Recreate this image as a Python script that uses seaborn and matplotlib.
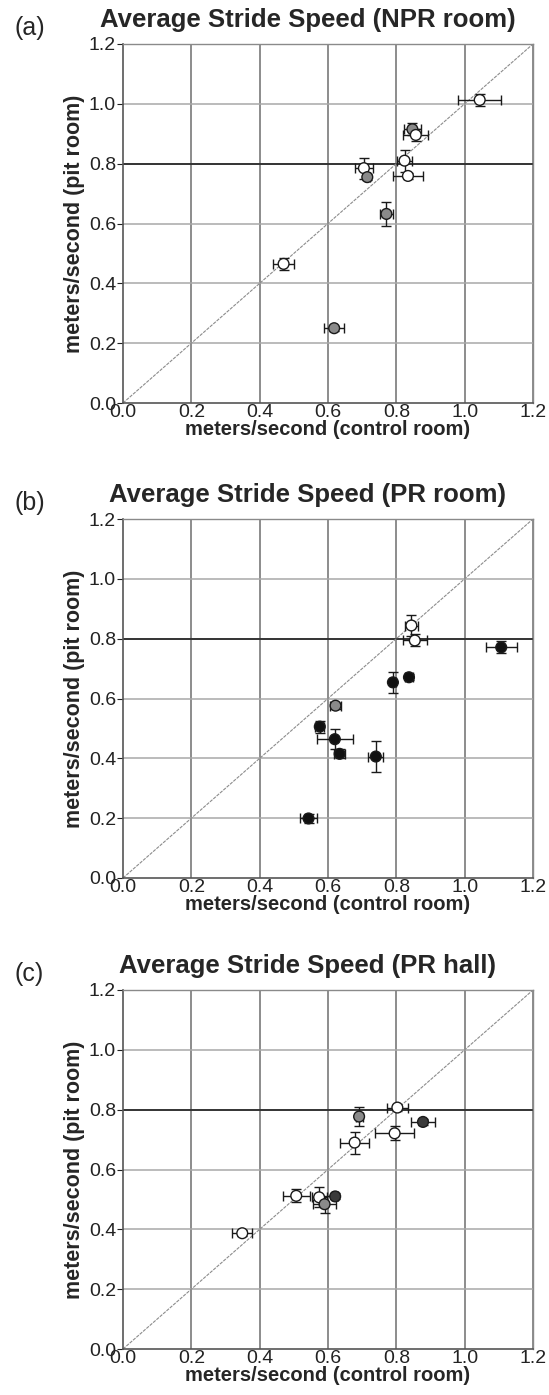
import matplotlib
matplotlib.use("Agg")
import matplotlib.pyplot as plt
import numpy as np
import pandas as pd
import seaborn as sns

sns.set_style("white")
plt.rcParams["font.family"] = ["Liberation Sans", "DejaVu Sans"]

# ---- data: control-room speed (x) vs pit-room speed (y), with SEM ----
titles = ["Average Stride Speed (NPR room)",
          "Average Stride Speed (PR room)",
          "Average Stride Speed (PR hall)"]
panel_tags = ["(a)", "(b)", "(c)"]
ticks = [0.0, 0.2, 0.4, 0.6, 0.8, 1.0, 1.2]
tick_labels = ["0.0", "0.2", "0.4", "0.6", "0.8", "1.0", "1.2"]

npr_x = [1.044, 0.847, 0.857, 0.824, 0.834, 0.705, 0.715, 0.771, 0.470, 0.618]
npr_y = [1.013, 0.915, 0.896, 0.810, 0.759, 0.785, 0.755, 0.632, 0.465, 0.250]
npr_xerr = [0.063, 0.025, 0.037, 0.021, 0.044, 0.027, 0.008, 0.019, 0.030, 0.030]
npr_yerr = [0.020, 0.020, 0.020, 0.037, 0.010, 0.035, 0.010, 0.040, 0.020, 0.008]
npr_group = ["open", "gray", "open", "open", "open", "open", "gray", "gray", "open", "gray"]

prr_x = [0.844, 0.854, 1.107, 0.790, 0.837, 0.622, 0.576, 0.620, 0.634, 0.740, 0.543]
prr_y = [0.844, 0.794, 0.771, 0.654, 0.671, 0.576, 0.506, 0.464, 0.415, 0.406, 0.199]
prr_xerr = [0.020, 0.035, 0.046, 0.008, 0.012, 0.015, 0.013, 0.053, 0.015, 0.022, 0.024]
prr_yerr = [0.035, 0.020, 0.020, 0.035, 0.010, 0.010, 0.020, 0.033, 0.015, 0.053, 0.015]
prr_group = ["open", "open", "black", "black", "black", "gray",
             "black", "black", "black", "black", "black"]

prh_x = [0.803, 0.691, 0.878, 0.795, 0.678, 0.507, 0.574, 0.590, 0.621, 0.349]
prh_y = [0.807, 0.777, 0.759, 0.721, 0.690, 0.512, 0.507, 0.484, 0.510, 0.387]
prh_xerr = [0.030, 0.010, 0.034, 0.056, 0.042, 0.039, 0.022, 0.034, 0.008, 0.029]
prh_yerr = [0.010, 0.033, 0.010, 0.023, 0.037, 0.022, 0.033, 0.028, 0.010, 0.010]
prh_group = ["open", "gray", "dark", "open", "open", "open", "open", "gray", "dark", "open"]

panels = [
    (npr_x, npr_y, npr_xerr, npr_yerr, npr_group),
    (prr_x, prr_y, prr_xerr, prr_yerr, prr_group),
    (prh_x, prh_y, prh_xerr, prh_yerr, prh_group),
]

fill_colors = {"open": "white", "gray": "#8a8a8a", "dark": "#3a3a3a", "black": "#111111"}

fig = plt.figure(figsize=(5.49, 13.95), dpi=100)
W, H = 549, 1395
axes_px = [(123, 44, 533, 403), (123, 519, 533, 878), (123, 990, 533, 1349)]

for (l, t, r, b), title, tag, (xs, ys, xe, ye, grp) in zip(axes_px, titles, panel_tags, panels):
    ax = fig.add_axes([l / W, 1 - b / H, (r - l) / W, (b - t) / H])
    df = pd.DataFrame({"x": xs, "y": ys, "xerr": xe, "yerr": ye, "group": grp})

    # grid
    for v in ticks[1:]:
        ax.axvline(v, color="#6e6e6e", lw=1.1, zorder=0)
    for v in ticks[1:]:
        if abs(v - 0.8) < 1e-9:
            ax.axhline(v, color="#333333", lw=1.4, zorder=0)
        else:
            ax.axhline(v, color="#a8a8a8", lw=1.1, zorder=0)
    # identity line
    ax.plot([0, 1.2], [0, 1.2], color="#8c8c8c", lw=0.8, ls=(0, (3, 1)), zorder=1)

    ax.errorbar(df["x"], df["y"], xerr=df["xerr"], yerr=df["yerr"], fmt="none",
                ecolor="#1a1a1a", elinewidth=1.0, capsize=3.5, capthick=1.0, zorder=2)
    sns.scatterplot(data=df, x="x", y="y", hue="group", palette=fill_colors,
                    edgecolor="#1a1a1a", linewidth=1.0, s=60, legend=False,
                    zorder=3, ax=ax)

    ax.set_xlim(0, 1.2)
    ax.set_ylim(0, 1.2)
    ax.set_xticks(ticks)
    ax.set_xticklabels(tick_labels)
    ax.set_yticks(ticks)
    ax.set_yticklabels(tick_labels)
    ax.tick_params(axis="both", labelsize=14, colors="#222222", pad=1)
    ax.tick_params(axis="y", length=4, width=0.8, direction="out", left=True)
    ax.tick_params(axis="x", length=0)
    for name, sp in ax.spines.items():
        sp.set_color("#555555" if name in ("left", "bottom") else "#8a8a8a")
        sp.set_linewidth(1.2 if name in ("left", "bottom") else 1.0)

    ax.set_xlabel("meters/second (control room)", fontsize=14.5, fontweight="bold", labelpad=-1)
    ax.set_ylabel("meters/second (pit room)", fontsize=15.5, fontweight="bold", labelpad=3)
    ax.set_title(title, fontsize=18.5, fontweight="bold", pad=12, x=0.45)
    fig.text(15 / W, 1 - (t - 16) / H, tag, fontsize=18, ha="left", va="center")

fig.savefig("out.png", dpi=100, facecolor="white")
